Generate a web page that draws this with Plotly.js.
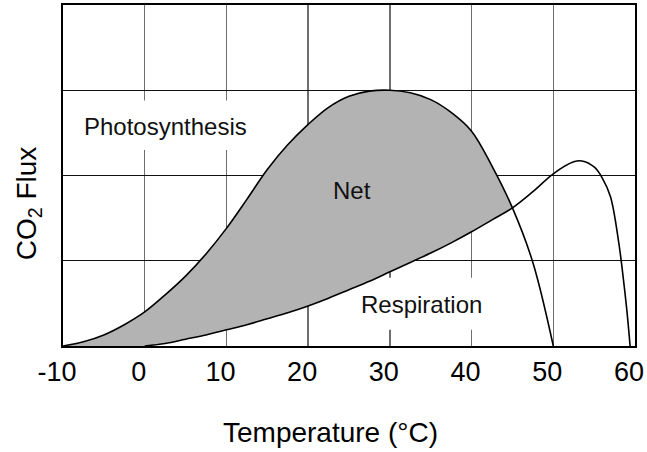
<!DOCTYPE html>
<html>
<head>
<meta charset="utf-8">
<script src="https://cdn.plot.ly/plotly-3.0.1.min.js"></script>
<style>
  html, body { margin: 0; padding: 0; background: #fff; }
  #chart { width: 647px; height: 452px; }
</style>
</head>
<body>
<div id="chart"></div>
<script>
// Temperature axis ticks (°C)
const tickTemps = [-10, 0, 10, 20, 30, 40, 50, 60];
const tickLabels = ['-10', '0', '10', '20', '30', '40', '50', '60'];

// Gross photosynthesis: CO2 uptake vs temperature (relative units)
const photoT = [-10, -7.5, -5, -2.5, 0, 2.5, 5, 7.5, 10, 12.5, 15, 17.5, 20, 22.5, 25, 27.5, 30, 32.5, 35, 37.5, 40, 42.5, 45, 47.5, 50];
const photoF = [0, 0.05, 0.13, 0.25, 0.40, 0.60, 0.82, 1.08, 1.38, 1.72, 2.07, 2.36, 2.60, 2.80, 2.93, 2.99, 3.0, 2.97, 2.89, 2.74, 2.52, 2.11, 1.62, 0.98, 0];

// Respiration: CO2 release vs temperature (relative units)
const respT = [0, 2.5, 5, 7.5, 10, 12.5, 15, 17.5, 20, 22.5, 25, 27.5, 30, 32.5, 35, 37.5, 40, 42.5, 45, 47.5, 50, 52.5, 53.5, 55, 56, 57, 58, 58.5, 59, 59.4];
const respF = [0, 0.03, 0.08, 0.13, 0.19, 0.25, 0.32, 0.39, 0.47, 0.56, 0.66, 0.76, 0.87, 0.98, 1.09, 1.21, 1.34, 1.48, 1.62, 1.81, 2.02, 2.16, 2.17, 2.10, 1.97, 1.75, 1.22, 0.85, 0.42, 0];

// Temperature where photosynthesis falls to respiration (net uptake ends)
const crossT = 45;

// Net uptake region: photosynthesis up to the crossing, back along respiration
const pIdx = photoT.map((t, i) => i).filter(i => photoT[i] <= crossT);
const rIdx = respT.map((t, i) => i).filter(i => respT[i] <= crossT).reverse();
const netX = pIdx.map(i => photoT[i]).concat(rIdx.map(i => respT[i]));
const netY = pIdx.map(i => photoF[i]).concat(rIdx.map(i => respF[i]));

const lineStyle = { color: '#000', width: 1.6, shape: 'spline', smoothing: 1 };

const traces = [
  {
    x: netX, y: netY, type: 'scatter', mode: 'lines',
    fill: 'toself', fillcolor: '#b3b3b3',
    line: { color: 'rgba(0,0,0,0)', width: 0, shape: 'spline', smoothing: 1 },
    hoverinfo: 'skip', name: 'Net'
  },
  { x: photoT, y: photoF, type: 'scatter', mode: 'lines', line: lineStyle, name: 'Photosynthesis' },
  { x: respT, y: respF, type: 'scatter', mode: 'lines', line: lineStyle, name: 'Respiration' }
];

const font = 'Liberation Sans, Arial, Helvetica, sans-serif';

// white label backings: above the grid, beneath the curves
const backing = { type: 'rect', xref: 'x', yref: 'y', layer: 'between',
  fillcolor: '#fff', line: { width: 0 } };

const layout = {
  width: 647, height: 452,
  margin: { l: 63, r: 12, t: 5, b: 106, pad: 0 },
  paper_bgcolor: '#fff', plot_bgcolor: '#fff',
  showlegend: false,
  font: { family: font, color: '#000' },
  xaxis: {
    range: [-10, 60], tickmode: 'array', tickvals: tickTemps, ticktext: tickLabels,
    showgrid: true, gridcolor: '#6e6e6e', gridwidth: 1.5,
    showline: true, mirror: true, linecolor: '#000', linewidth: 2,
    zeroline: false, ticks: '', ticklabelstandoff: 1, ticklabelshift: -6,
    ticklabeloverflow: 'allow',
    tickfont: { family: font, size: 27, color: '#000' }, fixedrange: true
  },
  yaxis: {
    range: [0, 4], dtick: 1, tick0: 0,
    showgrid: true, gridcolor: '#111', gridwidth: 1.4,
    showline: true, mirror: true, linecolor: '#000', linewidth: 2,
    zeroline: false, showticklabels: false, ticks: '', fixedrange: true
  },
  shapes: [
    Object.assign({ x0: -8.8, x1: 14.0, y0: 2.30, y1: 2.88 }, backing),
    Object.assign({ x0: 25.6, x1: 42.4, y0: 0.19, y1: 0.80 }, backing)
  ],
  annotations: [
    { text: 'Photosynthesis', xref: 'x', yref: 'y', x: 2.6, y: 2.57,
      showarrow: false, font: { family: font, size: 24, color: '#111' } },
    { text: 'Net', xref: 'x', yref: 'y', x: 25.4, y: 1.82,
      showarrow: false, font: { family: font, size: 24, color: '#111' } },
    { text: 'Respiration', xref: 'x', yref: 'y', x: 33.9, y: 0.49,
      showarrow: false, font: { family: font, size: 24, color: '#111' } },
    { text: 'CO<sub>2</sub> Flux', xref: 'paper', yref: 'paper', x: -0.061, y: 0.419,
      xanchor: 'center', yanchor: 'middle', textangle: -90,
      showarrow: false, font: { family: font, size: 28, color: '#000' } },
    { text: 'Temperature (°C)', xref: 'paper', yref: 'paper', x: 0.4685, y: -0.255,
      xanchor: 'center', yanchor: 'middle',
      showarrow: false, font: { family: font, size: 28, color: '#000' } }
  ]
};

Plotly.newPlot('chart', traces, layout, { displayModeBar: false, staticPlot: true });
</script>
</body>
</html>
